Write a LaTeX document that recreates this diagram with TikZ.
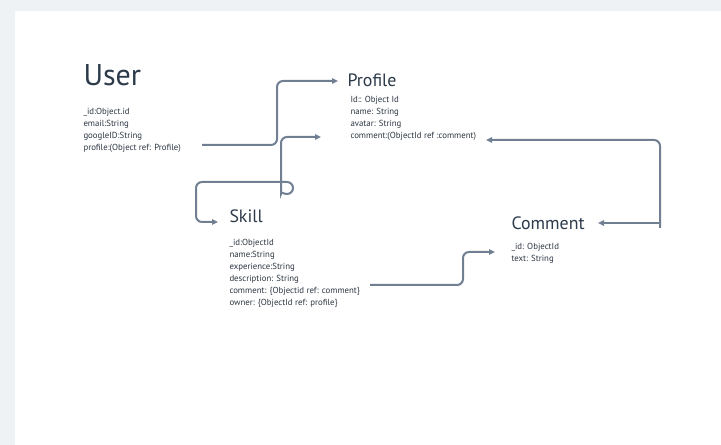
\documentclass[tikz,border=0pt]{standalone}
\usepackage{fontspec}
\setmainfont{PT Sans}
\usetikzlibrary{arrows.meta}

\definecolor{pagegray}{RGB}{238,242,245}
\definecolor{titlecol}{RGB}{44,58,74}
\definecolor{fieldcol}{RGB}{44,54,66}
\definecolor{linkcol}{RGB}{112,128,146}

\tikzset{every picture/.style={line width=0.75pt}}
\tikzset{
  title/.style={anchor=base west,inner sep=0pt,text=titlecol,font=\fontsize{13.4}{15}\selectfont},
  fields/.style={anchor=north west,inner sep=0pt,align=left,text=fieldcol,font=\fontsize{6.6}{8.9}\selectfont},
  link/.style={draw=linkcol,line width=1.5pt,rounded corners=4.5pt},
  tip/.style={-{Triangle[length=4.5pt,width=4pt]}},
  tips/.style={{Triangle[length=4.5pt,width=4pt]}-{Triangle[length=4.5pt,width=4pt]}}
}

\begin{document}
\begin{tikzpicture}[x=0.75pt,y=0.75pt,yscale=-1,xscale=1]
%set diagram left start at 0, and has height of 445
\useasboundingbox (0,0) rectangle (721,445);
\fill[pagegray] (0,0) rectangle (721,445);
\fill[white] (15,11) rectangle (721,445);

% Text Node
\node[title,font=\fontsize{22.5}{25}\selectfont] (user) at (83,86) {User};
\node[fields] (userfields) at (83,108) {\_id:Object.id\\email:String\\googleID:String\\profile:(Object ref: Profile)};
% Text Node
\node[title] (profile) at (347,87) {Profile};
\node[fields] (profilefields) at (350,96) {Id:: Object Id\\name: String\\avatar: String\\comment:(ObjectId ref :comment)};
% Text Node
\node[title] (skill) at (229,223) {Skill};
\node[fields] (skillfields) at (229,239) {\_id:ObjectId\\name:String\\experience:String\\description: String\\comment: \{Objectid ref: comment\}\\owner: \{ObjectId ref: profile\}};
% Text Node
\node[title] (comment) at (511,230) {Comment};
\node[fields] (commentfields) at (511,243) {\_id: ObjectId\\text: String};

% free ends
\coordinate (userref) at (202,145);
\coordinate (profilein) at (338,81);
\coordinate (ownerin) at (321,137);
\coordinate (skillin) at (218,222);
\coordinate (skillref) at (370,285);
\coordinate (commentin) at (495,252);
\coordinate (backref) at (660,228);
\coordinate (cmtfieldin) at (486,140);
\coordinate (commenttitlein) at (598,223);

%Straight Lines
\draw[link,tip] (userref) -- (277,145) -- (277,81) -- (profilein);
%Straight Lines with loop
\draw[link,tips] (ownerin) -- (281,137) -- (281,188) [sharp corners] arc (180:-90:6) [rounded corners=4.5pt] -- (196,182) -- (196,222) -- (skillin);
%Straight Lines
\draw[link,tip] (skillref) -- (463,285) -- (463,252) -- (commentin);
%Straight Lines
\draw[link,tip] (backref) -- (660,140) -- (cmtfieldin);
\draw[link,tip,rounded corners=0pt] (660,223) -- (commenttitlein);

\end{tikzpicture}
\end{document}
